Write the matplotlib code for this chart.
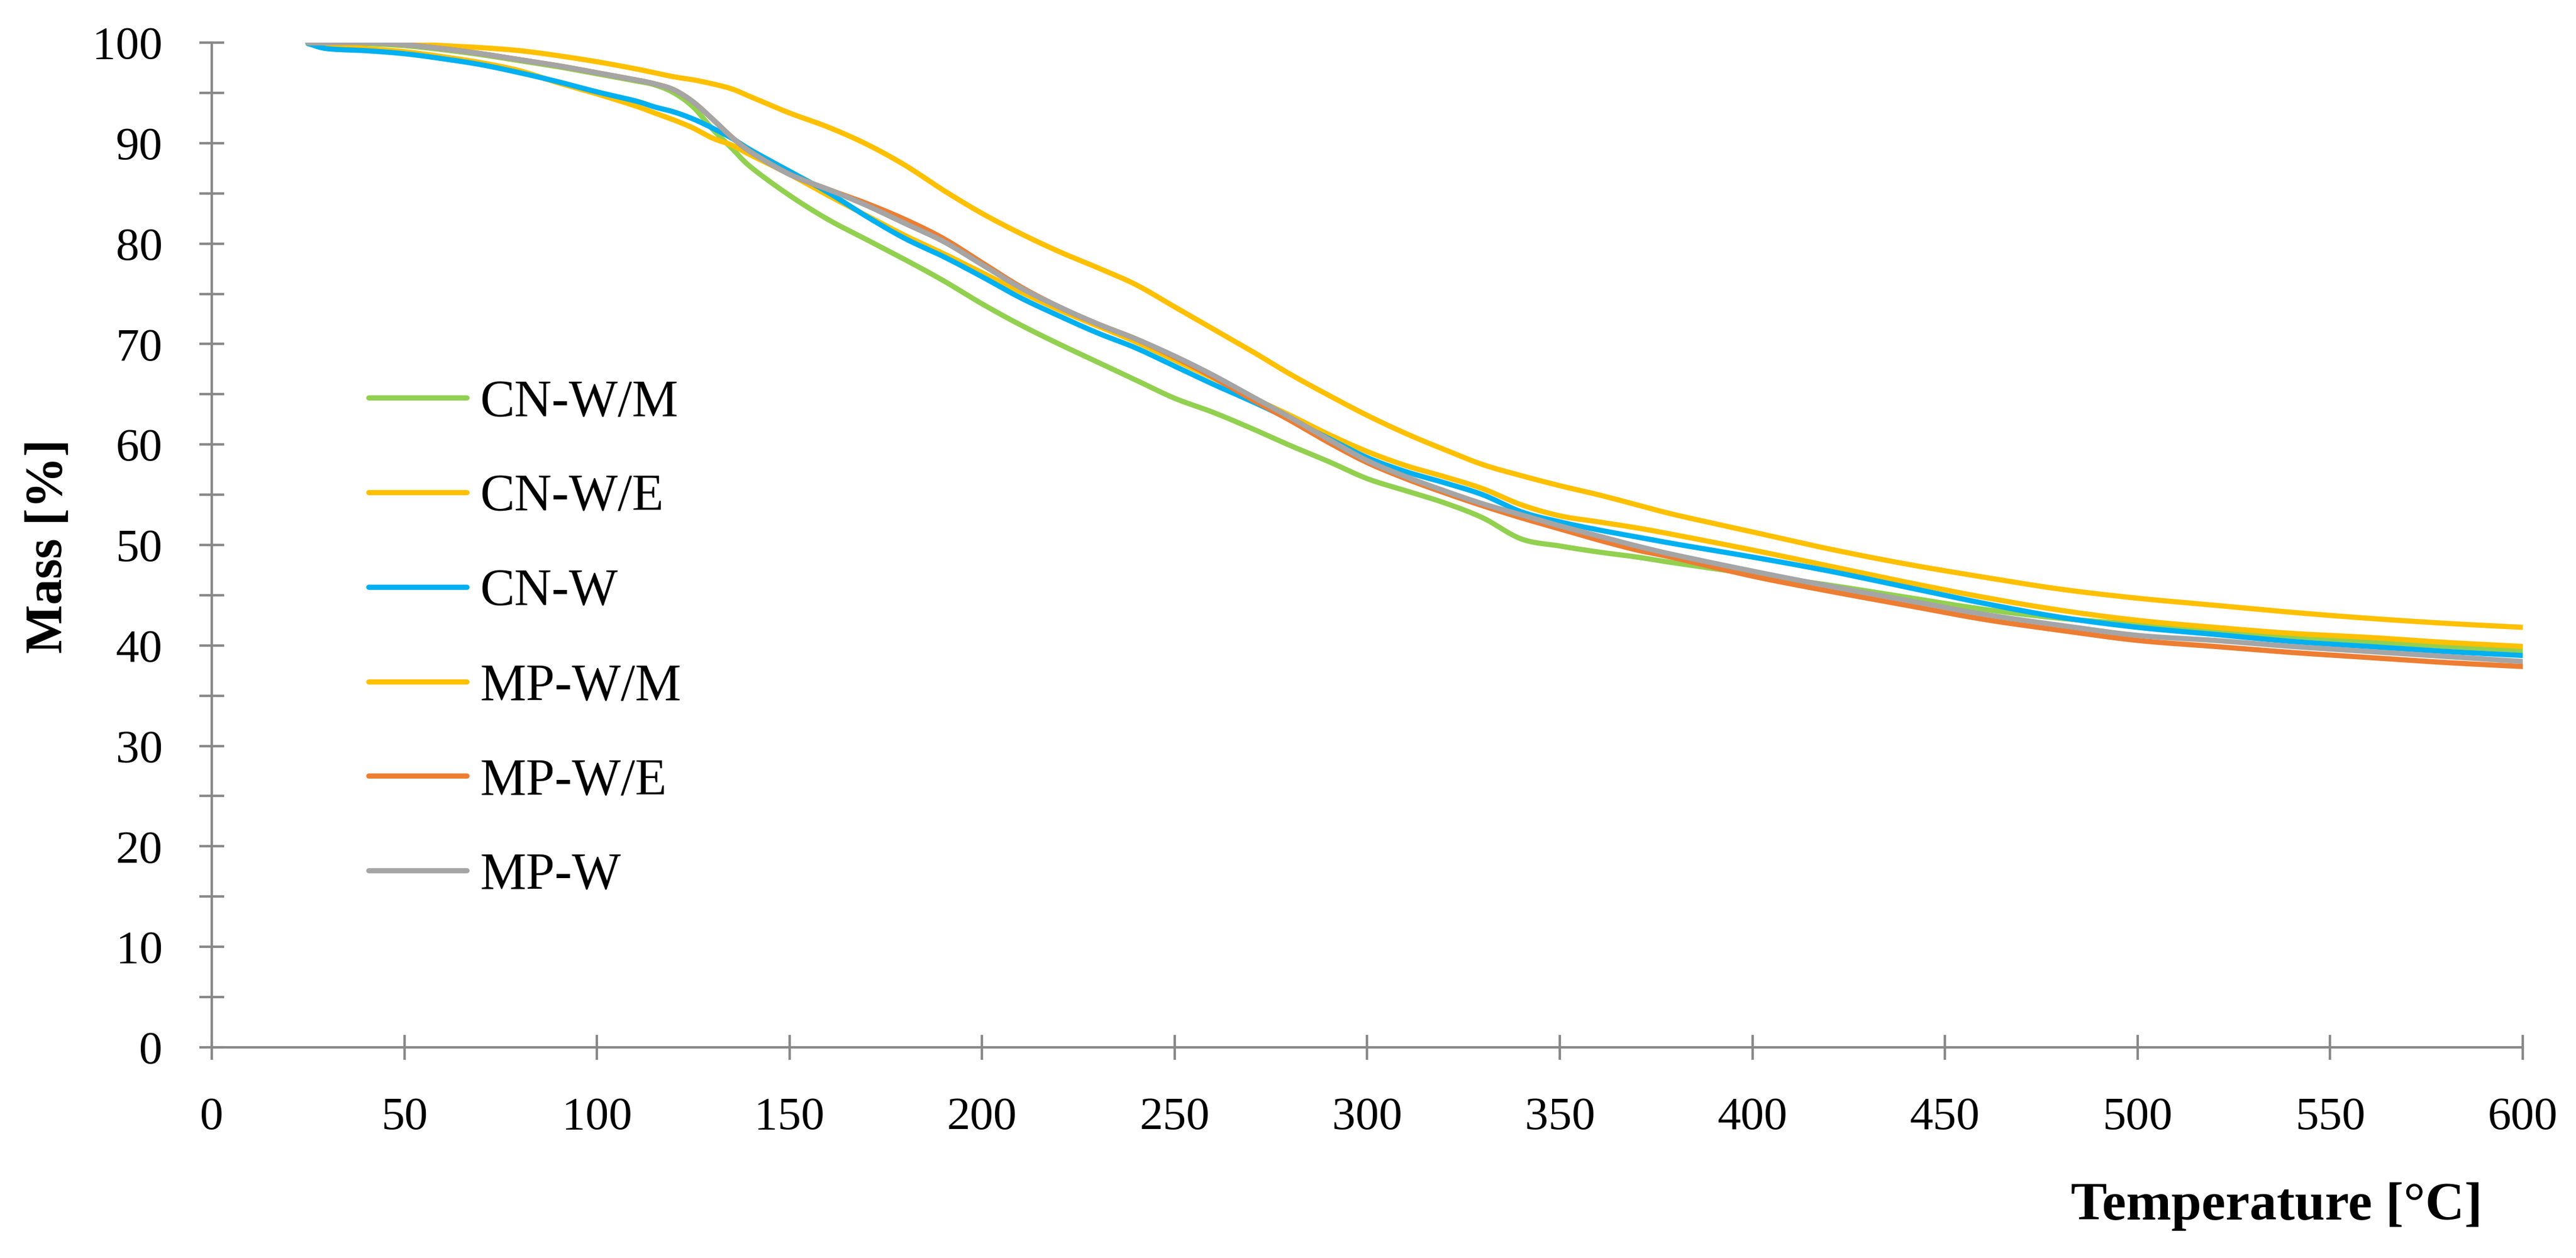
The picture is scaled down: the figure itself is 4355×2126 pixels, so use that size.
import numpy as np
import matplotlib
matplotlib.use('Agg')
import matplotlib.pyplot as plt

plt.rcParams['font.family'] = ['Liberation Serif', 'DejaVu Serif']

# temperature grid [deg C]
temp = [25, 30, 40, 50, 60, 70, 80, 90, 100, 110, 115, 120, 125, 130, 135, 140,
        150, 160, 170, 180, 190, 200, 210, 220, 230, 240, 250, 260, 270, 280,
        290, 300, 310, 320, 330, 340, 350, 360, 370, 380, 400, 420, 440, 460,
        480, 500, 520, 540, 560, 580, 600]

# mass [%]
cn_w_m = [100, 100, 99.9, 99.7, 99.3, 98.8, 98.2, 97.6, 96.9, 96.2, 95.8, 95.0,
          93.6, 91.4, 89.5, 87.6, 84.8, 82.4, 80.4, 78.4, 76.3, 74.0, 71.9,
          70.0, 68.2, 66.4, 64.6, 63.2, 61.6, 59.9, 58.3, 56.6, 55.4, 54.2,
          52.7, 50.6, 49.9, 49.3, 48.8, 48.2, 47.1, 46.0, 44.8, 43.6, 42.7,
          42.1, 41.5, 40.9, 40.4, 39.9, 39.5]
cn_w_e = [100, 99.7, 99.4, 99.1, 98.6, 98.0, 97.2, 96.0, 94.9, 93.7, 93.0, 92.3,
          91.5, 90.5, 89.8, 88.8, 86.9, 84.8, 82.8, 80.8, 79.0, 77.1, 75.2,
          73.4, 71.8, 70.2, 68.4, 66.6, 64.7, 62.9, 61.0, 59.3, 57.9, 56.8,
          55.6, 54.0, 52.9, 52.3, 51.7, 51.0, 49.5, 47.9, 46.3, 44.8, 43.5,
          42.5, 41.8, 41.2, 40.8, 40.3, 39.9]
cn_w = [99.9, 99.4, 99.2, 98.9, 98.4, 97.8, 97.0, 96.1, 95.1, 94.2, 93.6, 93.1,
        92.4, 91.5, 90.5, 89.3, 87.2, 85.1, 82.7, 80.5, 78.7, 76.7, 74.6, 72.8,
        71.1, 69.6, 67.8, 66.0, 64.3, 62.5, 60.6, 58.7, 57.3, 56.2, 55.0, 53.3,
        52.3, 51.5, 50.8, 50.1, 48.8, 47.4, 45.8, 44.2, 42.8, 41.8, 41.1, 40.4,
        39.9, 39.4, 39.0]
mp_w_m = [100, 100, 100, 99.9, 99.7, 99.5, 99.2, 98.7, 98.1, 97.4, 97.0, 96.6,
          96.3, 95.9, 95.4, 94.6, 93.0, 91.6, 89.9, 87.8, 85.3, 83.0, 81.0,
          79.2, 77.6, 75.9, 73.7, 71.5, 69.3, 67.0, 64.9, 62.9, 61.1, 59.5,
          58.0, 56.9, 55.9, 55.0, 54.0, 53.0, 51.3, 49.6, 48.1, 46.8, 45.6,
          44.7, 44.0, 43.3, 42.7, 42.2, 41.8]
mp_w_e = [100, 100, 100, 99.8, 99.4, 98.9, 98.3, 97.7, 97.0, 96.3, 95.9, 95.3,
          94.1, 92.4, 90.6, 89.1, 86.9, 85.4, 84.0, 82.4, 80.5, 78.1, 75.7,
          73.7, 72.0, 70.5, 68.7, 66.7, 64.5, 62.4, 60.2, 58.2, 56.6, 55.2,
          53.9, 52.7, 51.6, 50.5, 49.5, 48.7, 46.9, 45.4, 44.0, 42.6, 41.5,
          40.5, 39.9, 39.3, 38.8, 38.3, 37.9]
mp_w = [100, 100, 100, 99.8, 99.4, 98.9, 98.3, 97.7, 97.0, 96.3, 95.9, 95.3,
        94.1, 92.4, 90.6, 89.1, 86.9, 85.4, 83.8, 82.0, 80.2, 77.9, 75.6, 73.7,
        72.0, 70.5, 68.8, 66.9, 64.8, 62.7, 60.5, 58.4, 56.8, 55.4, 54.1, 53.0,
        51.9, 50.9, 49.9, 49.0, 47.4, 45.9, 44.5, 43.1, 42.0, 41.0, 40.5, 39.9,
        39.4, 38.9, 38.4]

labels = ['CN-W/M', 'CN-W/E', 'CN-W', 'MP-W/M', 'MP-W/E', 'MP-W']
colors = ['#92D050', '#FFC000', '#00B0F0', '#FFC000', '#ED7D31', '#A5A5A5']
series = [cn_w_m, cn_w_e, cn_w, mp_w_m, mp_w_e, mp_w]

axis_gray = '#898989'


def smooth(x, y, n=12):
    # catmull-rom through the read points, like excel's smoothed lines
    x = np.asarray(x, float)
    y = np.asarray(y, float)
    px = np.concatenate([[2*x[0]-x[1]], x, [2*x[-1]-x[-2]]])
    py = np.concatenate([[2*y[0]-y[1]], y, [2*y[-1]-y[-2]]])
    t = np.linspace(0, 1, n, endpoint=False)[:, None]
    out_x, out_y = [], []
    for i in range(1, len(px)-2):
        for p, o in ((px, out_x), (py, out_y)):
            p0, p1, p2, p3 = p[i-1], p[i], p[i+1], p[i+2]
            seg = 0.5*((2*p1) + (-p0+p2)*t + (2*p0-5*p1+4*p2-p3)*t**2
                       + (-p0+3*p1-3*p2+p3)*t**3)
            o.extend(seg.ravel())
    out_x.append(x[-1])
    out_y.append(y[-1])
    return np.array(out_x), np.array(out_y)


fig = plt.figure(figsize=(4355/300., 2126/300.), dpi=300)
ax = fig.add_axes([0.0822, 0.1675, 0.9793-0.0822, 0.9661-0.1675])

for vals, lab, col in zip(series, labels, colors):
    sx, sy = smooth(temp, vals)
    ax.plot(sx, sy, color=col, lw=2.1, label=lab, solid_capstyle='round')

ax.set_xlim(0, 600)
ax.set_ylim(0, 100)
ax.set_xticks(np.arange(0, 601, 50))
ax.set_yticks(np.arange(0, 101, 10))
ax.set_yticks(np.arange(5, 100, 10), minor=True)

for side in ['top', 'right']:
    ax.spines[side].set_visible(False)
for side in ['left', 'bottom']:
    ax.spines[side].set_color(axis_gray)
    ax.spines[side].set_linewidth(1.0)

ax.tick_params(axis='both', which='both', direction='inout', length=10,
               width=1.0, color=axis_gray, labelsize=19, pad=15)

leg = ax.legend(loc='upper left', bbox_to_anchor=(623/4355., 1-641/2126.),
                bbox_transform=fig.transFigure, frameon=False, fontsize=21,
                handlelength=1.9, handletextpad=0.25, labelspacing=0.9,
                borderpad=0, borderaxespad=0)

fig.text(83/4355., 0.566, 'Mass [%]', rotation=90, fontsize=21, fontweight='bold',
         ha='center', va='center')
fig.text(4197/4355., 0.041, 'Temperature [°C]', fontsize=22, fontweight='bold',
         ha='right', va='center')

plt.savefig('out.png', dpi=300)
